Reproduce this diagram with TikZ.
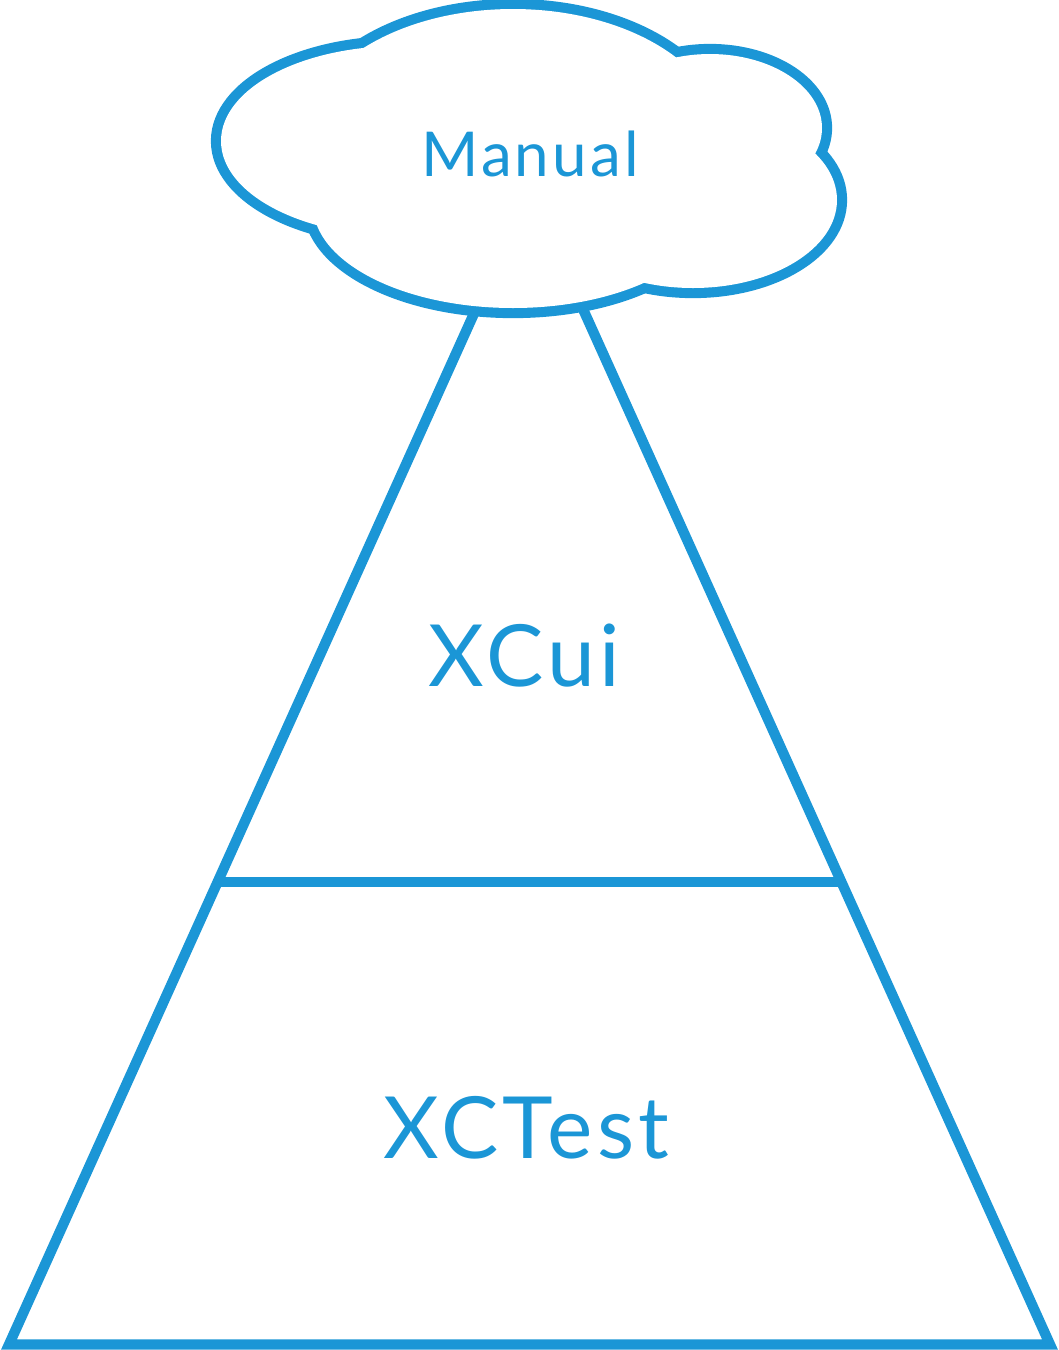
\documentclass[tikz,border=0pt]{standalone}
\usepackage{fontspec}
\setmainfont{Lato}[LetterSpace=5]
\usepackage{tikz}
\usetikzlibrary{calc}
\definecolor{xcblue}{HTML}{1B96D6}

\begin{document}
\begin{tikzpicture}[
    x=0.025cm, y=-0.025cm,
    edge/.style={draw=xcblue, line width=7.3pt},
    puff/.style={draw=xcblue, line width=14.4pt},
    layer/.style={inner sep=0pt, anchor=base, text=xcblue,
                  font=\fontsize{61}{61}\selectfont}
  ]
  \useasboundingbox (0,0) rectangle (1059,1350);

  % pyramid
  \coordinate (apex) at (529.5,190.5);
  \coordinate (bl) at (9,1344.5);
  \coordinate (br) at (1050,1344.5);
  \coordinate (ml) at ($(apex)!0.599!(bl)$);
  \coordinate (mr) at ($(apex)!0.599!(br)$);
  \draw[edge] (apex) -- (bl) -- (br) -- cycle;
  \draw[edge] (ml) -- (mr);

  % cloud: double outline, then white fill leaves the outer half
  \foreach \cx/\cy/\rx/\ry in {400/141/179/95, 513/140/210/131, 710/128/112/74,
                               693/200/144/88, 513/205/200/103}
    \draw[puff] (\cx,\cy) ellipse [x radius=\rx, y radius=\ry];
  \foreach \cx/\cy/\rx/\ry in {400/141/179/95, 513/140/210/131, 710/128/112/74,
                               693/200/144/88, 513/205/200/103}
    \fill[white] (\cx,\cy) ellipse [x radius=\rx, y radius=\ry];

  \node[layer, font=\fontsize{44}{44}\selectfont] (manual) at (530,176) {Manual};
  \node[layer] (xcui) at (524.5,686) {XCui};
  \node[layer] (xctest) at (526.5,1158) {XCTest};
\end{tikzpicture}
\end{document}
